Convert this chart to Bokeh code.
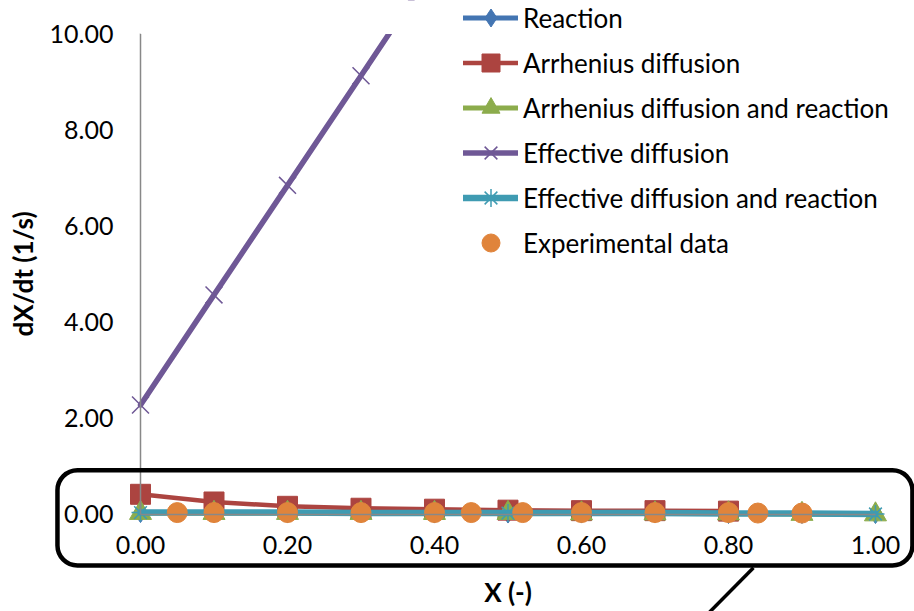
from bokeh.plotting import figure
from bokeh.models import (Range1d, Legend, LegendItem, BoxAnnotation, Arrow,
                          FixedTicker, NumeralTickFormatter)
from bokeh.embed import file_html
from bokeh.resources import INLINE

# Conversion X (-) and conversion rate dX/dt (1/s)
x_model = [0.0, 0.1, 0.2, 0.3, 0.4, 0.5, 0.6, 0.7, 0.8, 0.9, 1.0]
reaction = [0.04, 0.04, 0.04, 0.04, 0.03, 0.03, 0.03, 0.03, 0.02, 0.02, 0.02]
x_arrhenius = [0.0, 0.1, 0.2, 0.3, 0.4, 0.5, 0.6, 0.7, 0.8]
arrhenius_diffusion = [0.42, 0.26, 0.17, 0.13, 0.11, 0.09, 0.08, 0.08, 0.07]
arrhenius_diff_reaction = [0.03, 0.03, 0.03, 0.03, 0.03, 0.03, 0.02, 0.02, 0.02, 0.01, 0.0]
x_effective = [0.0, 0.1, 0.2, 0.3, 0.4]
effective_diffusion = [2.28, 4.57, 6.85, 9.13, 11.42]
effective_diff_reaction = [0.04, 0.04, 0.04, 0.03, 0.03, 0.03, 0.03, 0.03, 0.02, 0.02, 0.01]
x_exp = [0.05, 0.10, 0.20, 0.30, 0.40, 0.45, 0.52, 0.60, 0.70, 0.80, 0.84, 0.90]
y_exp = [0.04, 0.04, 0.04, 0.04, 0.04, 0.04, 0.04, 0.04, 0.04, 0.04, 0.03, 0.03]

x_ticks = [0.0, 0.2, 0.4, 0.6, 0.8, 1.0]
y_ticks = [0.0, 2.0, 4.0, 6.0, 8.0, 10.0]
X_MIN, X_MAX = 0.0, 1.0
Y_MIN, Y_MAX = 0.0, 10.0

BLUE = "#4375B2"
RED = "#AC4440"
GREEN = "#8CAC4C"
PURPLE = "#6F5896"
TEAL = "#3F9BB2"
ORANGE = "#E0843B"
FONT = "Lato"

# The frame fills the whole canvas; the axes sit at the data origin so that
# the tick labels and the zoom callout can live around the plotted region.
p = figure(width=914, height=611, output_backend="svg", toolbar_location=None,
           title=None,
           x_range=Range1d(-0.1905, 1.0531), y_range=Range1d(-2.019, 10.697),
           min_border=0)
p.outline_line_color = None
p.grid.visible = False
p.background_fill_color = "white"
p.border_fill_color = "white"

for ax in (p.xaxis, p.yaxis):
    ax.axis_line_color = "#888888"
    ax.axis_line_width = 1.5
    ax.major_tick_line_color = None
    ax.minor_tick_line_color = None
    ax.major_tick_out = 0
    ax.major_tick_in = 0
    ax.major_label_text_font = FONT
    ax.major_label_text_font_size = "25px"
    ax.major_label_text_color = "black"
    ax.axis_label_text_font = FONT
    ax.axis_label_text_font_size = "26px"
    ax.axis_label_text_font_style = "bold"
    ax.axis_label_text_color = "black"
    ax.formatter = NumeralTickFormatter(format="0.00")

p.xaxis.ticker = FixedTicker(ticks=x_ticks)
p.yaxis.ticker = FixedTicker(ticks=y_ticks)
p.xaxis.fixed_location = Y_MIN
p.xaxis.bounds = (X_MIN, X_MAX)
p.xaxis.major_label_standoff = 22
p.xaxis.axis_label = "X (-)"
p.xaxis.axis_label_standoff = 18
p.yaxis.fixed_location = X_MIN
p.yaxis.bounds = (Y_MIN, Y_MAX)
p.yaxis.major_label_standoff = 27
p.yaxis.axis_label = "dX/dt (1/s)"
p.yaxis.axis_label_standoff = 8

line_kw = dict(line_cap="round", line_join="round")

# model curves
r_line = p.line(x_model, reaction, line_color=BLUE, line_width=5, **line_kw)
r_mark = p.scatter(x_model, reaction, marker="diamond", size=20,
                   fill_color=BLUE, line_color=BLUE)
a_line = p.line(x_arrhenius, arrhenius_diffusion, line_color=RED, line_width=4.5,
                **line_kw)
a_mark = p.scatter(x_arrhenius, arrhenius_diffusion, marker="square", size=20,
                   fill_color=RED, line_color=RED)
ar_line = p.line(x_model, arrhenius_diff_reaction, line_color=GREEN, line_width=5,
                 **line_kw)
ar_mark = p.scatter(x_model, arrhenius_diff_reaction, marker="triangle", size=22,
                    fill_color=GREEN, line_color=GREEN)
e_line = p.line(x_effective, effective_diffusion, line_color=PURPLE, line_width=5.5,
                **line_kw)
e_mark = p.scatter(x_effective, effective_diffusion, marker="x", size=24,
                   line_color=PURPLE, line_width=1.5)
er_line = p.line(x_model, effective_diff_reaction, line_color=TEAL, line_width=6.5,
                 **line_kw)
er_mark = p.scatter(x_model, effective_diff_reaction, marker="asterisk", size=18,
                    line_color=TEAL, line_width=1.5)
exp_mark = p.scatter(x_exp, y_exp, marker="circle", size=20,
                     fill_color=ORANGE, line_color=ORANGE)

# plot area ends at the top of the value axis
p.add_layout(BoxAnnotation(left=X_MIN, bottom=Y_MAX, right=0.43,
                           fill_color="white", fill_alpha=1, line_alpha=0,
                           level="overlay"))

# zoom callout around the low-rate region
p.add_layout(BoxAnnotation(left=-0.113, right=1.0503, top=0.92, bottom=-1.06,
                           fill_alpha=0, line_color="black", line_alpha=1,
                           line_width=4.5, border_radius=20))
p.add_layout(Arrow(end=None, x_start=0.834, y_start=-1.11, x_end=0.766,
                   y_end=-2.16, line_color="black", line_width=3.5))

legend = Legend(items=[
    LegendItem(label="Reaction", renderers=[r_line, r_mark]),
    LegendItem(label="Arrhenius diffusion", renderers=[a_line, a_mark]),
    LegendItem(label="Arrhenius diffusion and reaction", renderers=[ar_line, ar_mark]),
    LegendItem(label="Effective diffusion", renderers=[e_line, e_mark]),
    LegendItem(label="Effective diffusion and reaction", renderers=[er_line, er_mark]),
    LegendItem(label="Experimental data", renderers=[exp_mark]),
], location=(463, 346))
legend.label_text_font = FONT
legend.label_text_font_size = "26px"
legend.label_text_color = "black"
legend.glyph_width = 55
legend.glyph_height = 45
legend.label_height = 45
legend.spacing = 0
legend.padding = 0
legend.margin = 0
legend.label_standoff = 5
legend.border_line_color = None
legend.background_fill_alpha = 0
p.add_layout(legend)

open("out.html", "w").write(file_html(p, INLINE))
